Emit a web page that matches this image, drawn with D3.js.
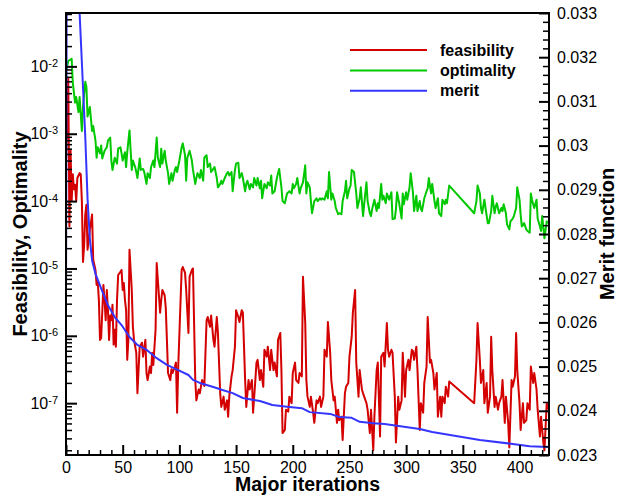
<!DOCTYPE html>
<html>
<head>
<meta charset="utf-8">
<script src="https://cdn.jsdelivr.net/npm/d3@7"></script>
<style>
  html, body { margin: 0; padding: 0; background: #fff; }
  svg { display: block; font-family: "Liberation Sans", Arial, Helvetica, sans-serif; }
</style>
</head>
<body>
<div id="chart"></div>
<script>
// merit function (right axis)
const meritIter = [0, 1, 12, 17, 19, 21, 23, 26, 32, 37, 43, 49, 56, 63, 71, 80, 89, 99, 108, 112, 118, 130, 138,
	147, 156, 171, 182, 195, 208, 215, 233, 241, 252, 259, 271, 281, 312, 323, 365, 394, 409, 425];
const meritVal = [0.02628, 0.0384, 0.033, 0.0302, 0.0288, 0.0279, 0.0274, 0.0271, 0.0267, 0.02639, 0.02612, 0.02594,
	0.02567, 0.02549, 0.02538, 0.02519, 0.02504, 0.02492, 0.02481, 0.0247, 0.02463, 0.02454, 0.02447, 0.0244,
	0.02429, 0.02422, 0.02413, 0.02409, 0.02406, 0.02397, 0.02393, 0.02386, 0.02384, 0.02375, 0.02372, 0.0237,
	0.02359, 0.02352, 0.02334, 0.02325, 0.0232, 0.02318];

// optimality (left axis)
const optIter = [0, 2, 5, 6, 8, 9, 11, 12, 14, 15, 17, 18, 19, 21, 23, 24, 26, 27, 28, 30, 31, 32, 34, 36, 37, 39, 40,
	41, 43, 45, 46, 48, 49, 50, 52, 53, 54, 56, 58, 59, 61, 62, 63, 65, 66, 68, 69, 71, 72, 74, 75, 77, 78, 80, 81,
	83, 84, 85, 87, 88, 90, 91, 93, 94, 96, 97, 98, 100, 102, 103, 105, 106, 107, 109, 111, 112, 114, 115, 116, 118,
	119, 121, 122, 124, 125, 127, 128, 131, 133, 134, 136, 137, 138, 140, 142, 143, 144, 146, 147, 149, 150, 152, 153,
	155, 156, 158, 159, 160, 162, 163, 165, 166, 168, 169, 171, 172, 173, 175, 177, 178, 180, 181, 182, 184, 186, 187,
	188, 190, 191, 193, 194, 195, 197, 199, 200, 201, 203, 204, 206, 207, 209, 211, 212, 213, 215, 216, 217, 219, 221,
	222, 224, 225, 226, 228, 230, 231, 232, 234, 235, 237, 238, 240, 241, 243, 244, 246, 247, 248, 250, 251, 252, 254,
	256, 257, 259, 260, 262, 263, 265, 266, 268, 269, 270, 272, 274, 275, 276, 278, 279, 280, 282, 283, 285, 287, 288,
	290, 291, 292, 294, 296, 297, 298, 300, 301, 303, 304, 306, 307, 309, 310, 312, 313, 314, 316, 318, 319, 320, 322,
	323, 325, 326, 328, 329, 331, 332, 334, 335, 336, 338, 360, 362, 363, 365, 366, 367, 369, 370, 372, 373, 375, 376,
	378, 379, 380, 382, 384, 385, 386, 388, 389, 391, 392, 394, 395, 397, 398, 400, 401, 402, 404, 406, 407, 409, 410,
	411, 413, 415, 416, 418, 419, 420, 422, 424, 425];
const optVal = [8.3e-3, 1.2e-2, 1.3e-2, 5.7e-3, 2.9e-3, 3.5e-3, 2.1e-3, 3.5e-3, 1.1e-3, 2.5e-3, 5.9e-3, 5.0e-3, 1.8e-3,
	2.5e-3, 1.1e-3, 1.3e-3, 7.9e-4, 4.4e-4, 6.3e-4, 5.1e-4, 6.7e-4, 4.3e-4, 5.6e-4, 6.3e-4, 7.9e-4, 8.8e-4, 4.0e-4,
	2.9e-4, 4.4e-4, 3.6e-4, 6.0e-4, 6.3e-4, 5.1e-4, 4.0e-4, 5.3e-4, 3.2e-4, 5.3e-4, 1.12e-3, 2.9e-4, 4.0e-4, 3.2e-4,
	2.7e-4, 2.2e-4, 4.3e-4, 2.9e-4, 3.0e-4, 2.7e-4, 1.8e-4, 2.6e-4, 2.2e-4, 3.2e-4, 4.0e-4, 3.2e-4, 8.8e-4, 4.4e-4,
	3.2e-4, 6.0e-4, 3.6e-4, 5.6e-4, 4.0e-4, 2.6e-4, 1.8e-4, 2.6e-4, 2.0e-4, 2.9e-4, 3.2e-4, 2.7e-4, 4.0e-4, 6.3e-4,
	7.2e-4, 4.8e-4, 2.0e-4, 4.4e-4, 5.6e-4, 4.0e-4, 2.9e-4, 1.8e-4, 2.2e-4, 2.6e-4, 2.2e-4, 2.9e-4, 2.0e-4, 4.4e-4,
	4.8e-4, 3.2e-4, 3.6e-4, 2.7e-4, 3.2e-4, 2.2e-4, 1.6e-4, 1.8e-4, 2.0e-4, 1.8e-4, 2.2e-4, 2.6e-4, 2.7e-4, 2.4e-4,
	2.7e-4, 1.4e-4, 2.9e-4, 3.6e-4, 3.7e-4, 2.2e-4, 2.6e-4, 2.2e-4, 1.4e-4, 1.8e-4, 2.0e-4, 1.5e-4, 1.8e-4, 1.6e-4,
	2.2e-4, 1.7e-4, 2.2e-4, 1.55e-4, 2.0e-4, 1.1e-4, 1.8e-4, 1.55e-4, 1.9e-4, 1.7e-4, 2.4e-4, 1.3e-4, 1.4e-4, 2.2e-4,
	2.6e-4, 3.0e-4, 1.6e-4, 1.0e-4, 9.3e-5, 1.1e-4, 1.3e-4, 1.4e-4, 1.3e-4, 1.8e-4, 1.55e-4, 1.8e-4, 2.2e-4, 1.3e-4,
	1.55e-4, 1.9e-4, 3.4e-4, 1.3e-4, 1.9e-4, 1.6e-4, 1.0e-4, 6.6e-5, 1.0e-4, 1.1e-4, 1.0e-4, 1.1e-4, 1.05e-4, 1.1e-4,
	1.05e-4, 1.4e-4, 1.1e-4, 2.7e-4, 1.05e-4, 1.3e-4, 1.0e-4, 7.9e-5, 6.4e-5, 6.6e-5, 6.4e-5, 1.0e-4, 1.4e-4, 2.0e-4,
	1.1e-4, 1.55e-4, 1.7e-4, 2.9e-4, 2.7e-4, 1.3e-4, 7.9e-5, 1.1e-4, 1.6e-4, 6.0e-5, 9.0e-5, 1.9e-4, 1.0e-4, 6.6e-5,
	6.0e-5, 7.6e-5, 1.05e-4, 7.1e-5, 9.3e-5, 7.9e-5, 1.8e-4, 1.05e-4, 1.2e-4, 9.3e-5, 1.3e-4, 1.05e-4, 1.35e-4,
	5.4e-5, 5.5e-5, 7.6e-5, 1.35e-4, 9.0e-5, 5.5e-5, 1.3e-4, 9.0e-5, 1.35e-4, 1.05e-4, 1.6e-4, 2.6e-4, 1.35e-4,
	7.1e-5, 1.2e-4, 7.1e-5, 1.0e-4, 7.6e-5, 7.1e-5, 1.1e-4, 1.4e-4, 1.55e-4, 2.2e-4, 1.3e-4, 1.8e-4, 1.0e-4, 7.9e-5,
	1.1e-4, 6.6e-5, 6.0e-5, 1.05e-4, 9.0e-5, 1.05e-4, 9.3e-5, 1.7e-4, 6.6e-5, 1.0e-4, 1.7e-4, 1.3e-4, 7.9e-5, 6.6e-5,
	1.05e-4, 7.9e-5, 4.7e-5, 4.7e-5, 7.1e-5, 1.2e-4, 6.6e-5, 8.2e-5, 9.3e-5, 6.6e-5, 7.9e-5, 7.1e-5, 9.0e-5, 6.6e-5,
	4.5e-5, 3.8e-5, 5.0e-5, 5.5e-5, 6.0e-5, 7.9e-5, 1.6e-4, 1.05e-4, 6.3e-5, 4.2e-5, 4.7e-5, 3.8e-5, 3.6e-5, 3.4e-5,
	1.3e-4, 1.05e-4, 7.9e-5, 1.05e-4, 5.5e-5, 4.2e-5, 3.6e-5, 6.0e-5, 2.8e-5, 5.0e-5, 4.7e-5];

// feasibility (left axis)
const feasIter = [0, 2, 3, 4, 5, 6, 7, 8, 9, 10, 12, 13, 14, 15, 16, 17, 18, 19, 21, 23, 24, 26, 27, 28, 29, 30, 31, 33,
	34, 35, 36, 37, 38, 39, 40, 41, 42, 43, 44, 45, 46, 48, 49, 50, 51, 52, 53, 54, 55, 56, 58, 59, 60, 62, 63, 65, 67,
	68, 70, 71, 72, 74, 75, 76, 77, 79, 80, 81, 83, 84, 85, 87, 88, 89, 90, 92, 93, 94, 96, 97, 98, 99, 102, 103, 105,
	106, 108, 109, 111, 112, 114, 115, 117, 118, 120, 122, 124, 125, 127, 128, 130, 131, 133, 134, 136, 137, 139, 140,
	142, 143, 144, 146, 147, 149, 150, 152, 153, 155, 156, 158, 159, 161, 162, 164, 165, 167, 168, 169, 171, 172, 174,
	175, 177, 178, 180, 181, 183, 184, 186, 187, 189, 190, 191, 193, 194, 196, 197, 199, 200, 202, 203, 205, 206, 208,
	209, 211, 212, 213, 215, 216, 218, 219, 221, 222, 224, 225, 227, 228, 230, 231, 233, 234, 236, 237, 239, 240, 241,
	243, 244, 246, 247, 249, 250, 252, 253, 255, 256, 258, 259, 261, 262, 263, 265, 266, 268, 269, 271, 272, 274, 275,
	277, 278, 280, 281, 283, 284, 285, 287, 288, 290, 291, 293, 294, 296, 297, 299, 300, 302, 303, 305, 306, 307, 309,
	310, 312, 313, 315, 316, 318, 319, 321, 322, 324, 325, 327, 328, 330, 331, 332, 334, 335, 337, 338, 360, 362, 363,
	365, 366, 368, 369, 371, 372, 374, 375, 376, 378, 379, 381, 382, 384, 385, 387, 388, 390, 391, 393, 394, 396, 397,
	398, 400, 401, 403, 404, 406, 407, 409, 410, 412, 413, 415, 416, 418, 419, 421, 422, 424, 425];
const feasVal = [4.1e-4, 6.8e-3, 4.2e-5, 5.8e-4, 1.0e-4, 2.5e-4, 1.5e-4, 1.75e-4, 1.0e-4, 2.2e-4, 2.6e-4, 2.5e-4, 1.0e-4,
	1.25e-5, 2.2e-5, 6.3e-5, 8.8e-5, 1.9e-5, 3.7e-5, 6.3e-5, 1.35e-5, 9.5e-6, 5.7e-6, 6.3e-6, 3.4e-6, 8.7e-7, 9.3e-7,
	5.7e-6, 3.4e-6, 1.7e-6, 4.8e-6, 2.4e-6, 8.7e-7, 2.0e-6, 1.7e-6, 2.9e-6, 7.4e-7, 1.23e-6, 6.9e-7, 3.4e-6, 8.0e-6,
	8.9e-6, 9.5e-6, 4.8e-6, 6.1e-6, 3.4e-6, 2.4e-6, 4.4e-7, 8.7e-7, 1.9e-5, 4.8e-6, 1.36e-6, 8.7e-7, 5.6e-7, 1.4e-7,
	6.9e-7, 7.9e-7, 4.9e-7, 8.7e-7, 2.8e-7, 2.2e-7, 3.5e-7, 2.8e-7, 5.6e-7, 3.7e-7, 1.23e-6, 1.2e-5, 6.8e-6, 2.2e-6,
	3.4e-6, 4.8e-6, 4.0e-6, 2.6e-6, 8.7e-7, 2.8e-7, 2.2e-7, 3.2e-7, 2.8e-7, 3.5e-7, 4.0e-7, 7.2e-8, 3.5e-7, 9.5e-6,
	1.05e-5, 8.6e-6, 4.8e-6, 1.1e-6, 7.5e-6, 9.5e-6, 1.0e-5, 2.2e-7, 1.1e-7, 1.6e-7, 1.4e-7, 2.2e-7, 1.8e-7, 1.7e-6,
	1.9e-6, 1.36e-6, 2.0e-6, 8.7e-7, 6.9e-7, 1.9e-6, 1.1e-6, 1.4e-7, 8.8e-8, 1.25e-7, 8.0e-8, 1.1e-7, 6.3e-8, 1.25e-7,
	2.5e-7, 3.1e-7, 6.9e-7, 2.4e-6, 1.9e-6, 1.6e-6, 2.4e-6, 2.2e-6, 2.2e-7, 8.8e-8, 2.2e-7, 1.6e-7, 2.2e-7, 7.2e-8,
	2.2e-7, 4.0e-7, 4.4e-7, 2.2e-7, 3.1e-7, 1.75e-7, 6.2e-7, 4.9e-7, 6.9e-7, 3.1e-7, 6.2e-7, 3.1e-7, 4.0e-7, 2.5e-7,
	8.7e-7, 1.1e-6, 3.1e-7, 3.6e-8, 4.0e-8, 8.0e-8, 7.5e-8, 1.25e-7, 1.0e-7, 2.8e-7, 4.0e-7, 2.2e-7, 2.0e-7, 2.8e-7,
	2.5e-7, 7.5e-6, 1.55e-6, 2.2e-7, 1.25e-7, 8.8e-8, 1.25e-7, 7.2e-8, 5.1e-8, 1.1e-7, 1.0e-7, 1.25e-7, 8.8e-8,
	1.25e-7, 6.2e-7, 4.9e-7, 1.6e-6, 5.6e-7, 2.2e-7, 1.1e-7, 1.25e-7, 5.1e-8, 8.0e-8, 5.6e-8, 6.3e-8, 2.85e-8, 1.4e-7,
	1.75e-7, 2.0e-7, 4.9e-7, 9.7e-7, 2.2e-6, 4.8e-6, 4.0e-7, 1.25e-7, 3.1e-7, 1.6e-7, 1.4e-7, 1.25e-7, 1.0e-7, 8.0e-8,
	3.6e-8, 8.0e-8, 2.0e-8, 6.3e-8, 3.1e-7, 4.0e-7, 3.2e-8, 4.9e-7, 5.6e-7, 3.5e-7, 1.55e-6, 6.2e-7, 4.9e-7, 6.2e-7,
	5.6e-7, 1.25e-7, 2.6e-8, 1.25e-7, 8.0e-8, 1.1e-7, 5.6e-7, 1.25e-7, 3.1e-7, 4.4e-7, 3.1e-7, 6.2e-7, 5.9e-7, 4.4e-7,
	6.9e-7, 3.1e-7, 4.0e-8, 1.0e-7, 7.2e-8, 2.0e-7, 3.5e-7, 1.9e-6, 4.0e-7, 4.4e-7, 2.8e-7, 1.6e-7, 2.8e-7, 6.3e-8,
	1.25e-7, 6.3e-8, 1.25e-7, 1.0e-7, 1.75e-7, 1.25e-7, 2.1e-7, 1.0e-7, 4.4e-7, 1.55e-6, 4.4e-7, 2.0e-7, 3.1e-7,
	1.0e-7, 2.0e-7, 7.2e-8, 1.25e-7, 9.7e-7, 3.1e-7, 8.8e-8, 1.25e-7, 8.0e-8, 1.0e-7, 1.25e-7, 2.2e-7, 5.1e-8, 1.25e-7,
	5.1e-8, 2.2e-8, 2.2e-7, 1.75e-7, 2.5e-7, 1.1e-6, 3.1e-7, 1.0e-7, 4.0e-8, 1.0e-7, 5.1e-8, 5.6e-8, 1.0e-7, 8.0e-8,
	3.5e-7, 2.0e-7, 2.8e-7, 1.6e-7, 8.0e-8, 3.2e-8, 6.3e-8, 2.6e-8, 2.0e-8, 1.0e-7, 8.0e-8];

// axis ticks
const xMajorTicks = [0, 50, 100, 150, 200, 250, 300, 350, 400];
const leftExponents = [-7, -6, -5, -4, -3, -2];
const rightTicks = [0.023, 0.024, 0.025, 0.026, 0.027, 0.028, 0.029, 0.03, 0.031, 0.032, 0.033];
const rightTickLabels = ['0.023', '0.024', '0.025', '0.026', '0.027', '0.028', '0.029', '0.03', '0.031', '0.032', '0.033'];

const legendNames = ['feasibility', 'optimality', 'merit'];
const colors = ['#d40000', '#00c800', '#3535ff'];

const W = 619, H = 495;
const margin = { top: 13, right: 70, bottom: 40, left: 66 };
const width = W - margin.left - margin.right;
const height = H - margin.top - margin.bottom;

const svg = d3.select('#chart').append('svg').attr('width', W).attr('height', H);
const g = svg.append('g').attr('transform', `translate(${margin.left},${margin.top})`);

const x = d3.scaleLinear().domain([0, 426]).range([0, width]);
const yL = d3.scaleLog().domain([1.7e-8, 6.2e-2]).range([height, 0]);
const yR = d3.scaleLinear().domain([0.023, 0.033]).range([height, 0]);

g.append('clipPath').attr('id', 'plotClip').append('rect').attr('width', width).attr('height', height);

const series = [
	{ it: feasIter, v: feasVal, y: yL, color: colors[0] },
	{ it: optIter, v: optVal, y: yL, color: colors[1] },
	{ it: meritIter, v: meritVal, y: yR, color: colors[2] },
];

const dataG = g.append('g').attr('clip-path', 'url(#plotClip)');
series.forEach((s) => {
	const pts = s.it.map((d, i) => [d, s.v[i]]);
	const line = d3.line().x((d) => x(d[0])).y((d) => s.y(d[1]));
	dataG.append('path').datum(pts)
		.attr('fill', 'none')
		.attr('stroke', s.color)
		.attr('stroke-width', 2)
		.attr('stroke-linejoin', 'round')
		.attr('d', line);
});

// minor ticks
const xMinor = d3.range(0, 426, 10).filter((v) => v % 50 !== 0);
const leftMinor = [];
for (let e = -8; e <= -2; e++) {
	for (let m = 2; m <= 9; m++) {
		const v = m * Math.pow(10, e);
		if (v > 1.7e-8 && v < 6.2e-2) leftMinor.push(v);
	}
}
const rightMinor = d3.range(0, 51).map((i) => 0.023 + i * 0.0002).filter((v, i) => i % 5 !== 0);

function styleAxis(sel, w) {
	sel.select('.domain').remove();
	sel.selectAll('line').attr('stroke', '#000').attr('stroke-width', w);
}

g.append('g').attr('transform', `translate(0,${height})`)
	.call(d3.axisBottom(x).tickValues(xMinor).tickSize(-5).tickFormat(''))
	.call(styleAxis, 1.5);
g.append('g').call(d3.axisLeft(yL).tickValues(leftMinor).tickSize(-6).tickFormat(''))
	.call(styleAxis, 1.5);
g.append('g').attr('transform', `translate(${width},0)`)
	.call(d3.axisRight(yR).tickValues(rightMinor).tickSize(-6).tickFormat(''))
	.call(styleAxis, 1.5);

// major ticks + labels
const xAxis = g.append('g').attr('transform', `translate(0,${height})`)
	.call(d3.axisBottom(x).tickValues(xMajorTicks).tickSize(-10).tickPadding(7).tickFormat(d3.format('d')))
	.call(styleAxis, 2);

const leftAxis = g.append('g')
	.call(d3.axisLeft(yL).tickValues(leftExponents.map((e) => Math.pow(10, e))).tickSize(-11).tickPadding(8))
	.call(styleAxis, 2);
leftAxis.selectAll('text').each(function (d, i) {
	const t = d3.select(this).text('');
	t.append('tspan').text('10');
	t.append('tspan').attr('dy', -5).attr('font-size', 11).text(String(leftExponents[i]));
});

const rightAxis = g.append('g').attr('transform', `translate(${width},0)`)
	.call(d3.axisRight(yR).tickValues(rightTicks).tickSize(-10).tickPadding(8)
		.tickFormat((d, i) => rightTickLabels[i]))
	.call(styleAxis, 2);

[xAxis, leftAxis, rightAxis].forEach((a) => {
	a.selectAll('text').attr('fill', '#000').attr('font-size', 16)
		.attr('font-family', '"Liberation Sans", Arial, Helvetica, sans-serif');
});

// frame
g.append('rect').attr('width', width).attr('height', height)
	.attr('fill', 'none').attr('stroke', '#000').attr('stroke-width', 2);

// axis titles
svg.append('text')
	.attr('x', margin.left + width / 2).attr('y', 490.5)
	.attr('text-anchor', 'middle').attr('font-weight', 'bold').attr('font-size', 19.5)
	.text('Major iterations');

svg.append('text')
	.attr('transform', `translate(27,${margin.top + height / 2}) rotate(-90)`)
	.attr('text-anchor', 'middle').attr('font-weight', 'bold').attr('font-size', 20)
	.text('Feasibility, Optimality');

svg.append('text')
	.attr('transform', `translate(614,${margin.top + height / 2}) rotate(-90)`)
	.attr('text-anchor', 'middle').attr('font-weight', 'bold').attr('font-size', 20)
	.text('Merit function');

// legend
const legend = svg.append('g').attr('transform', 'translate(350,50)');
const items = legend.selectAll('g').data(legendNames).enter().append('g')
	.attr('transform', (d, i) => `translate(0,${i * 20.4})`);
items.append('line').attr('x1', 0).attr('x2', 77).attr('y1', 0).attr('y2', 0)
	.attr('stroke', (d, i) => colors[i]).attr('stroke-width', 2);
items.append('text').attr('x', 90).attr('y', 5.5)
	.attr('font-weight', 'bold').attr('font-size', 16)
	.text((d) => d);
</script>
</body>
</html>
